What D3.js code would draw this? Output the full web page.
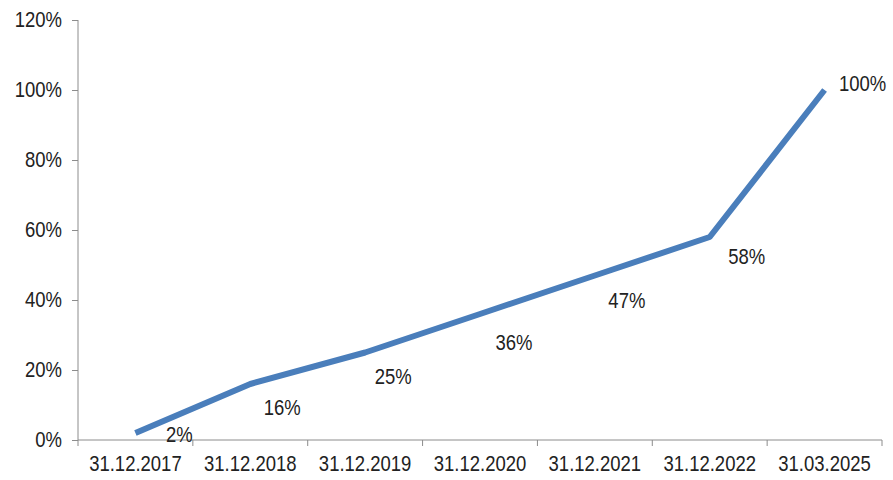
<!DOCTYPE html>
<html lang="en">
  <head>
    <meta charset="utf-8">
    <title>Line</title>
    <script src="https://d3js.org/d3.v7.js"></script>
    <style>
      body { margin: 0; background: #fff; }
      text { font-family: "Liberation Sans", Arial, sans-serif; }
    </style>
  </head>
  <body>
  <script>

  var dates = ["31.12.2017", "31.12.2018", "31.12.2019", "31.12.2020",
               "31.12.2021", "31.12.2022", "31.03.2025"];
  var values = [2, 16, 25, 36, 47, 58, 100];
  var yTicks = [0, 20, 40, 60, 80, 100, 120];

  // where each data label sits relative to its point (as in the original)
  var labelOffsets = [[44, 2], [32, 24], [28, 24], [34, 29], [32, 25], [37, 20], [38, -6]];

  var data = dates.map((d, i) => ({date: d, value: values[i]}));

  var w = 893;
  var h = 480;
  var margin = {top: 20, right: 11, bottom: 40, left: 78};
  var fs = 18.5, stretch = "scale(1,1.15)";

  var xScale = d3.scaleBand()
      .domain(dates)
      .range([margin.left, w - margin.right]);

  var yScale = d3.scaleLinear()
      .domain([0, 120])
      .range([h - margin.bottom, margin.top]);

  var svg = d3.select("body")
    .append("svg")
      .attr("width", w)
      .attr("height", h);

  // y axis
  var yAxis = svg.append("g")
      .attr("transform", `translate(${margin.left},0)`)
      .call(d3.axisLeft(yScale).tickValues(yTicks).tickSize(6).tickPadding(10)
        .tickFormat(d => d + "%"));
  yAxis.selectAll("line, path").attr("stroke", "#8c8c8c");
  yAxis.select("path").attr("d", `M0,${yScale(120)}V${yScale(0)}`);
  yAxis.selectAll("text").attr("font-size", fs).attr("fill", "#222")
      .attr("transform", stretch)
      .style("font-family", "'Liberation Sans', Arial, sans-serif");

  // x axis, ticks at category boundaries
  var xg = svg.append("g")
      .attr("transform", `translate(0,${yScale(0)})`);
  xg.append("line")
      .attr("x1", margin.left).attr("x2", w - margin.right)
      .attr("stroke", "#8c8c8c");
  var bounds = dates.map(d => xScale(d)).concat([xScale.range()[1]]);
  xg.selectAll(".tk").data(bounds).enter().append("line")
      .attr("x1", d => d).attr("x2", d => d)
      .attr("y1", 0).attr("y2", 6)
      .attr("stroke", "#8c8c8c");
  xg.selectAll(".lb").data(dates).enter().append("text")
      .attr("transform", d => `translate(${xScale(d) + xScale.bandwidth() / 2},24) ${stretch}`)
      .attr("dy", "0.35em")
      .attr("text-anchor", "middle")
      .attr("font-size", fs)
      .attr("fill", "#222")
      .text(d => d);

  var cx = d => xScale(d.date) + xScale.bandwidth() / 2;

  var line = d3.line()
      .x(cx)
      .y(d => yScale(d.value));

  svg.append("path")
      .datum(data)
      .attr("fill", "none")
      .attr("stroke", "#4a7ebb")
      .attr("stroke-width", 6)
      .attr("stroke-linejoin", "round")
      .attr("d", line);

  // data labels
  svg.selectAll(".dl").data(data).enter().append("text")
      .attr("transform", (d, i) =>
        `translate(${cx(d) + labelOffsets[i][0]},${yScale(d.value) + labelOffsets[i][1]}) ${stretch}`)
      .attr("dy", "0.35em")
      .attr("text-anchor", "middle")
      .attr("font-size", fs)
      .attr("fill", "#222")
      .text(d => d.value + "%");

  </script>
  </body>
</html>
